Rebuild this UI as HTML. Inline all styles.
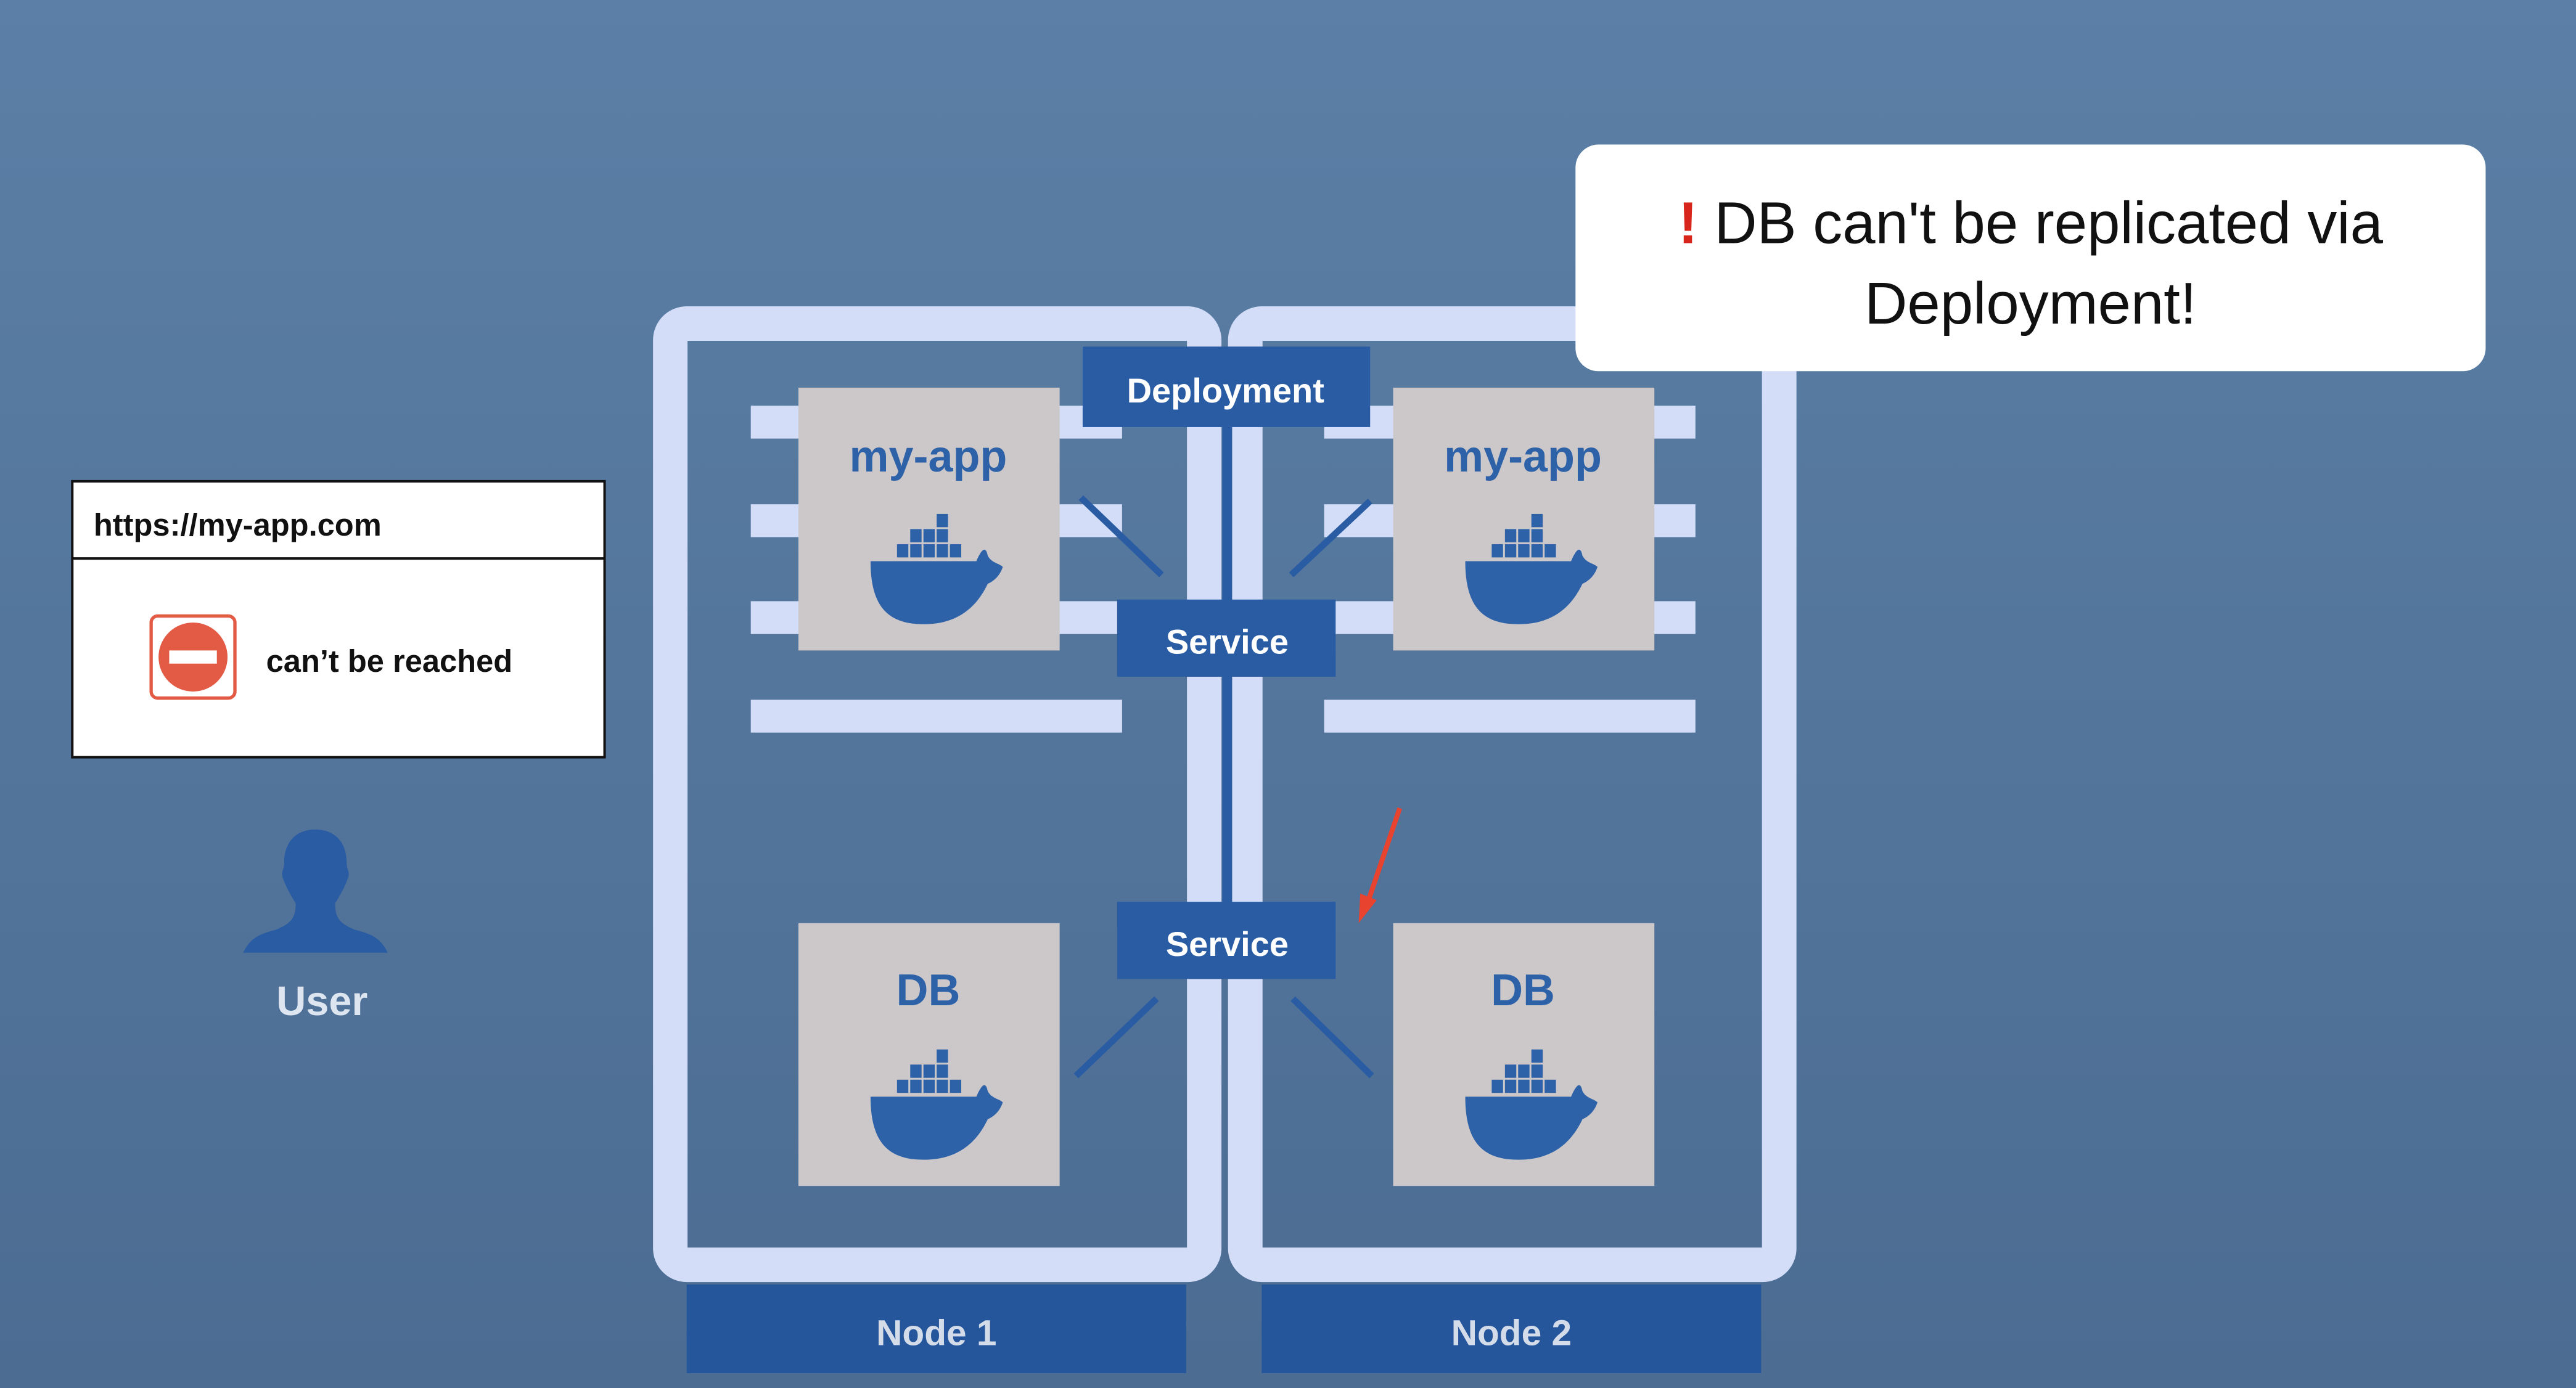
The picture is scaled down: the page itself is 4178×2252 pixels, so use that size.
<!DOCTYPE html>
<html><head><meta charset="utf-8"><style>
html,body{margin:0;padding:0;}
body{width:4178px;height:2252px;overflow:hidden;}
svg{display:block;}
text{font-family:"Liberation Sans",sans-serif;font-weight:bold;}
</style></head><body>
<svg width="4178" height="2252" viewBox="0 0 1568 845" preserveAspectRatio="none" xmlns="http://www.w3.org/2000/svg">
<defs>
<linearGradient id="bg" x1="0" y1="0" x2="0" y2="1">
<stop offset="0" stop-color="#5b7fa6"/><stop offset="1" stop-color="#4c6c92"/>
</linearGradient>
<g id="whale">
<g fill="#2d62a8" transform="scale(1.15)">
<rect x="-20" y="-18" width="6" height="7"/><rect x="-13" y="-18" width="6" height="7"/><rect x="-6" y="-18" width="6" height="7"/><rect x="1" y="-18" width="6" height="7"/><rect x="8" y="-18" width="6" height="7"/>
<rect x="-13" y="-26" width="6" height="7"/><rect x="-6" y="-26" width="6" height="7"/><rect x="1" y="-26" width="6" height="7"/>
<rect x="1" y="-34" width="6" height="7"/>
<path d="M-34,-9 L22,-9 C25,-16 27,-17 28,-12 C30,-8 34,-8 36,-6 C34,0 30,2 28,3 C20,20 6,26 -12,24 C-27,22 -34,12 -34,-9 Z"/>
</g>
</g>
</defs>
<rect width="1568" height="845" fill="url(#bg)"/>

<rect x="408" y="197" width="325" height="573" rx="10" fill="none" stroke="#d3ddf7" stroke-width="21"/>
<rect x="758" y="197" width="325" height="573" rx="10" fill="none" stroke="#d3ddf7" stroke-width="21"/>

<g fill="#d3ddf7">
<rect x="457" y="247" width="226" height="20"/><rect x="457" y="307" width="226" height="20"/><rect x="457" y="366" width="226" height="20"/><rect x="457" y="426" width="226" height="20"/>
<rect x="806" y="247" width="226" height="20"/><rect x="806" y="307" width="226" height="20"/><rect x="806" y="366" width="226" height="20"/><rect x="806" y="426" width="226" height="20"/>
</g>

<rect x="418" y="782" width="304" height="54" fill="#25559a"/>
<rect x="768" y="782" width="304" height="54" fill="#25559a"/>
<text x="570" y="819" font-size="22" fill="#d4dcea" text-anchor="middle">Node 1</text>
<text x="920" y="819" font-size="22" fill="#d4dcea" text-anchor="middle">Node 2</text>

<rect x="744" y="260" width="6" height="290" fill="#2a5ca3"/>

<rect x="486" y="236" width="159" height="160" fill="#ccc8c9"/>
<rect x="848" y="236" width="159" height="160" fill="#ccc8c9"/>
<rect x="486" y="562" width="159" height="160" fill="#ccc8c9"/>
<rect x="848" y="562" width="159" height="160" fill="#ccc8c9"/>
<text x="565" y="287" font-size="27" fill="#2d62a8" text-anchor="middle">my-app</text>
<text x="927" y="287" font-size="27" fill="#2d62a8" text-anchor="middle">my-app</text>
<text x="565" y="612" font-size="27" fill="#2d62a8" text-anchor="middle">DB</text>
<text x="927" y="612" font-size="27" fill="#2d62a8" text-anchor="middle">DB</text>
<use href="#whale" x="569" y="352"/>
<use href="#whale" x="931" y="352"/>
<use href="#whale" x="569" y="678"/>
<use href="#whale" x="931" y="678"/>

<g stroke="#2a5ca3" stroke-width="4">
<line x1="658" y1="303" x2="707" y2="350"/>
<line x1="834" y1="305" x2="786" y2="350"/>
<line x1="704" y1="608" x2="655" y2="655"/>
<line x1="787" y1="608" x2="835" y2="655"/>
</g>

<rect x="659" y="211" width="175" height="49" fill="#2a5ca3"/>
<text x="746" y="245" font-size="21" fill="#ffffff" text-anchor="middle">Deployment</text>
<rect x="680" y="365" width="133" height="47" fill="#2a5ca3"/>
<text x="747" y="398" font-size="21" fill="#ffffff" text-anchor="middle">Service</text>
<rect x="680" y="549" width="133" height="47" fill="#2a5ca3"/>
<text x="747" y="582" font-size="21" fill="#ffffff" text-anchor="middle">Service</text>

<line x1="852" y1="492" x2="833" y2="548" stroke="#e8432f" stroke-width="3"/>
<polygon points="827,562 828,544 838,548" fill="#e8432f"/>

<rect x="959" y="88" width="554" height="138" rx="14" fill="#ffffff"/>
<text x="1236" y="148" font-size="36" fill="#111" text-anchor="middle" style="font-weight:normal"><tspan fill="#d8261c" style="font-weight:bold">!</tspan> DB can't be replicated via</text>
<text x="1236" y="197" font-size="36" fill="#111" text-anchor="middle" style="font-weight:normal">Deployment!</text>

<rect x="44" y="293" width="324" height="168" fill="#ffffff" stroke="#111" stroke-width="1.5"/>
<line x1="44" y1="340" x2="368" y2="340" stroke="#111" stroke-width="1.5"/>
<text x="57" y="326" font-size="19" fill="#111">https://my-app.com</text>
<rect x="92" y="375" width="51" height="50" rx="4" fill="none" stroke="#e35b45" stroke-width="2"/>
<circle cx="117.5" cy="400" r="21" fill="#e35b45"/>
<rect x="103" y="396" width="29" height="8" fill="#ffffff"/>
<text x="162" y="409" font-size="19" fill="#111">can’t be reached</text>

<g fill="#2a5ca3">
<path d="M192,505 C180,505 173,513 173,525 C173,530 171,530 172,534 C174,540 177,545 180,550 C180,558 178,562 168,566 C156,569 152,572 148,580 L236,580 C232,572 228,569 216,566 C206,562 204,558 204,550 C207,545 210,540 212,534 C213,530 211,530 211,525 C211,513 204,505 192,505 Z"/>
</g>
<text x="196" y="618" font-size="25" fill="#dde6f0" text-anchor="middle">User</text>
</svg>
</body></html>
